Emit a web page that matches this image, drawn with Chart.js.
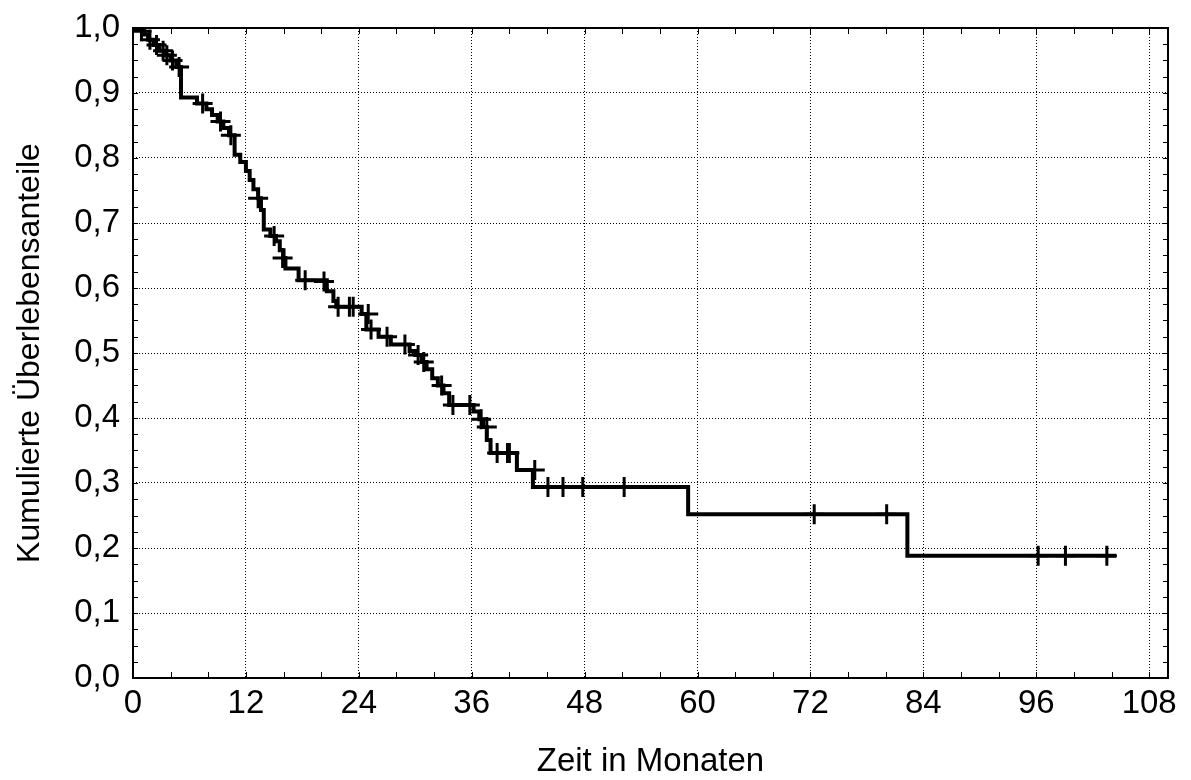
<!DOCTYPE html>
<html>
<head>
<meta charset="utf-8">
<script src="https://cdn.jsdelivr.net/npm/chart.js@4/dist/chart.umd.min.js"></script>
<style>
  html, body { margin: 0; padding: 0; background: #fff; }
  canvas { display: block; }
</style>
</head>
<body>
<canvas id="km" width="1191" height="780"></canvas>
<script>
// Kaplan-Meier steps: month of each drop and survival after it
const eventMonths = [0, 1.2, 1.6, 2.2, 2.8, 3.4, 4.0, 4.6, 5.1, 6.8, 7.8, 8.4, 9.0, 9.6, 10.2, 10.8, 11.4, 12.0, 12.4, 12.8,
  13.3, 13.6, 13.9, 14.6, 15.2, 15.6, 16.0, 16.2, 17.6, 20.6, 21.3, 21.6, 24.3, 24.8, 26.1, 27.4, 29.4, 30.0, 30.7, 31.2,
  31.8, 32.4, 33.0, 33.6, 36.2, 36.8, 37.2, 37.6, 38.0, 40.8, 42.5, 59.0, 82.3, 104.5];
const survival = [1.0, 0.99, 0.982, 0.974, 0.965, 0.958, 0.95, 0.94, 0.893, 0.884, 0.875, 0.866, 0.856, 0.846, 0.835, 0.805, 0.794, 0.78, 0.766, 0.752,
  0.738, 0.72, 0.69, 0.68, 0.672, 0.658, 0.646, 0.63, 0.612, 0.595, 0.58, 0.571, 0.56, 0.536, 0.525, 0.513, 0.503, 0.497, 0.486, 0.475,
  0.461, 0.45, 0.438, 0.42, 0.41, 0.398, 0.386, 0.366, 0.346, 0.32, 0.294, 0.252, 0.188, 0.188];

// censored observations
const censorMonths = [0.9, 1.8, 2.5, 3.2, 3.6, 4.2, 4.9, 7.4, 9.3, 10.4, 13.3, 15.0, 15.9, 18.3, 20.3, 21.8, 23.0, 23.4,
  25.0, 25.3, 27.0, 28.9, 30.3, 30.9, 32.8, 34.0, 35.8, 37.0, 37.6, 38.7, 39.8, 40.0, 42.7,
  44.1, 45.7, 47.8, 52.2, 72.4, 80.1, 96.2, 99.1, 103.5];
const censorSurvival = [0.995, 0.982, 0.974, 0.965, 0.958, 0.95, 0.94, 0.884, 0.856, 0.835, 0.738, 0.68, 0.646, 0.612, 0.61, 0.571, 0.571, 0.571,
  0.56, 0.536, 0.525, 0.513, 0.497, 0.486, 0.45, 0.42, 0.42, 0.398, 0.386, 0.346, 0.346, 0.346, 0.32,
  0.294, 0.294, 0.294, 0.294, 0.252, 0.252, 0.188, 0.188, 0.188];

const xTicks = [0, 12, 24, 36, 48, 60, 72, 84, 96, 108];
const yTicks = [0, 0.1, 0.2, 0.3, 0.4, 0.5, 0.6, 0.7, 0.8, 0.9, 1.0];

const FONT = "'Liberation Sans', Arial, sans-serif";

// frame on all four sides plus small inward minor ticks
const framePlugin = {
  id: 'frame',
  afterDatasetsDraw(chart) {
    const { ctx, chartArea: a, scales: { x, y } } = chart;
    ctx.save();
    ctx.strokeStyle = '#000';
    ctx.lineWidth = 1;
    ctx.beginPath();
    for (let m = 0; m <= 110; m += 4) {
      const px = Math.round(x.getPixelForValue(m)) + 0.5;
      ctx.moveTo(px, a.bottom); ctx.lineTo(px, a.bottom - 6);
      ctx.moveTo(px, a.top); ctx.lineTo(px, a.top + 6);
    }
    for (let v = 0; v <= 1.0001; v += 0.025) {
      const py = Math.round(y.getPixelForValue(v)) + 0.5;
      ctx.moveTo(a.left, py); ctx.lineTo(a.left + 5, py);
      ctx.moveTo(a.right, py); ctx.lineTo(a.right - 5, py);
    }
    ctx.stroke();
    ctx.lineWidth = 2;
    ctx.strokeRect(a.left, a.top, a.right - a.left, a.bottom - a.top);
    ctx.restore();
  }
};

const ctx = document.getElementById('km').getContext('2d');
new Chart(ctx, {
  type: 'scatter',
  data: {
    datasets: [
      {
        data: eventMonths.map((m, i) => ({ x: m, y: survival[i] })),
        showLine: true,
        stepped: 'before',
        borderColor: '#000',
        borderWidth: 4,
        pointRadius: 0,
        fill: false,
      },
      {
        data: censorMonths.map((m, i) => ({ x: m, y: censorSurvival[i] })),
        showLine: false,
        pointStyle: 'cross',
        pointRadius: 10,
        pointBorderWidth: 3,
        pointBorderColor: '#000',
        pointBackgroundColor: '#000',
      },
    ],
  },
  options: {
    responsive: false,
    animation: false,
    layout: { padding: { top: 28, right: 23, left: 0, bottom: 0 } },
    plugins: { legend: { display: false }, tooltip: { enabled: false } },
    scales: {
      x: {
        type: 'linear',
        min: 0,
        max: 110,
        afterBuildTicks: (s) => { s.ticks = xTicks.map(v => ({ value: v })); },
        afterFit: (s) => { s.height = 102; s.paddingLeft = 0; s.paddingRight = 0; },
        grid: { color: '#000', lineWidth: 1, drawTicks: false, tickLength: 0 },
        border: { display: false, dash: [1, 2] },
        ticks: { color: '#000', font: { family: FONT, size: 33 }, padding: 6, maxRotation: 0 },
        title: { display: true, text: 'Zeit in Monaten', color: '#000', font: { family: FONT, size: 33 }, padding: { top: 0, bottom: -2 } },
      },
      y: {
        type: 'linear',
        min: 0,
        max: 1,
        afterBuildTicks: (s) => { s.ticks = yTicks.map(v => ({ value: v })); },
        afterFit: (s) => { s.width = 133; s.paddingTop = 0; s.paddingBottom = 0; },
        grid: { color: '#000', lineWidth: 1, drawTicks: false, tickLength: 0 },
        border: { display: false, dash: [1, 2] },
        ticks: { color: '#000', font: { family: FONT, size: 33 }, padding: 13,
          callback: (v) => v.toFixed(1).replace('.', ',') },
        title: { display: true, text: 'Kumulierte Überlebensanteile', color: '#000', font: { family: FONT, size: 32 }, padding: { top: 11, bottom: 0 } },
      },
    },
  },
  plugins: [framePlugin],
});
</script>
</body>
</html>
